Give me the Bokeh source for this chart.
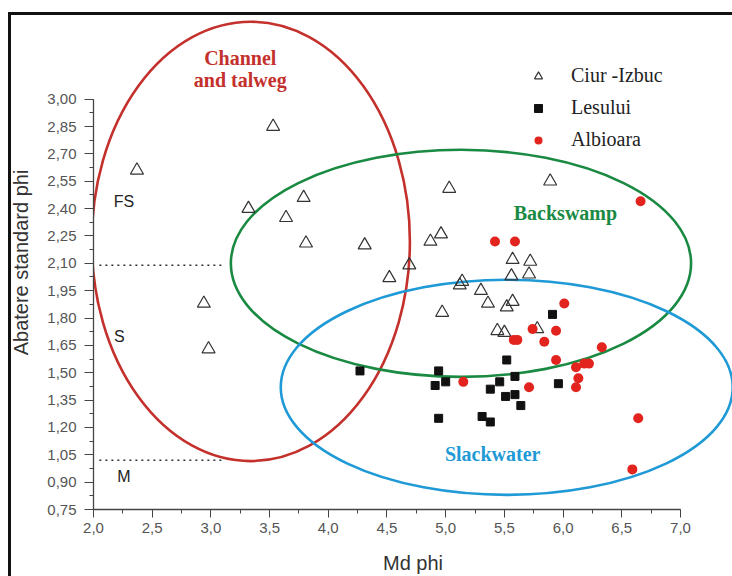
from bokeh.plotting import figure
from bokeh.models import (Range1d, SingleIntervalTicker, CustomJSTickFormatter,
                          Label, Legend, LegendItem)
from bokeh.embed import file_html
from bokeh.resources import INLINE

# ---------------- data ----------------
ciur_x = [2.37, 3.53, 3.32, 3.79, 3.64, 3.81, 4.31, 2.94, 2.98, 4.69, 4.52, 4.87,
          4.96, 5.03, 5.89, 5.12, 5.14, 4.97, 5.30, 5.36, 5.57, 5.52, 5.57, 5.72,
          5.56, 5.71, 5.44, 5.50, 5.78]
ciur_y = [2.61, 2.85, 2.40, 2.46, 2.35, 2.21, 2.20, 1.88, 1.63, 2.09, 2.02, 2.22,
          2.26, 2.51, 2.55, 1.98, 2.00, 1.83, 1.95, 1.88, 1.89, 1.86, 2.12, 2.11,
          2.03, 2.04, 1.73, 1.72, 1.74]

lesului_x = [5.91, 5.52, 4.27, 4.94, 5.00, 4.91, 5.59, 5.46, 5.38, 5.51, 5.59,
             5.64, 5.96, 4.94, 5.31, 5.38]
lesului_y = [1.82, 1.57, 1.51, 1.51, 1.45, 1.43, 1.48, 1.45, 1.41, 1.37, 1.38,
             1.32, 1.44, 1.25, 1.26, 1.23]

albioara_x = [6.66, 5.42, 5.59, 6.01, 5.74, 5.94, 5.84, 5.58, 5.61, 6.33, 5.94,
              6.11, 6.18, 6.22, 6.13, 6.11, 5.71, 5.15, 6.64, 6.59]
albioara_y = [2.44, 2.22, 2.22, 1.88, 1.74, 1.73, 1.67, 1.68, 1.68, 1.64, 1.57,
              1.53, 1.55, 1.55, 1.47, 1.42, 1.42, 1.45, 1.25, 0.97]

# environment regions (ellipses): centre x, centre y, width, height
region_names = ["Channel and talweg", "Backswamp", "Slackwater"]
region_cx = [3.34, 5.13, 5.52]
region_cy = [2.22, 2.10, 1.42]
region_w = [2.71, 3.92, 3.85]
region_h = [2.41, 1.245, 1.18]
region_colors = ["#c4302b", "#1a8a43", "#1f9ad6"]

# class boundaries (FS / S / M)
boundary_y = [2.09, 1.02]
boundary_x0 = 2.05
boundary_x1 = 3.12
class_labels = ["FS", "S", "M"]
class_label_x = [2.26, 2.22, 2.26]
class_label_y = [2.44, 1.70, 0.93]

# ---------------- figure ----------------
p = figure(width=732, height=576,
           x_range=Range1d(2.0, 7.443), y_range=Range1d(0.75, 3.459),
           output_backend="svg", toolbar_location=None,
           min_border_left=93, min_border_right=0, min_border_top=15,
           min_border_bottom=66)
# outer black frame of the original figure (top and left edges)
p.styles = {
    "background-image": "linear-gradient(#111, #111), linear-gradient(#111, #111)",
    "background-size": "3px 564px, 724px 3px",
    "background-position": "8px 12px, 8px 12px",
    "background-repeat": "no-repeat",
}
p.border_fill_color = None
p.background_fill_color = "white"
p.outline_line_color = None
p.xgrid.visible = False
p.ygrid.visible = False

# axes
xa = p.xaxis[0]
ya = p.yaxis[0]
xa.ticker = SingleIntervalTicker(interval=0.5, num_minor_ticks=2)
ya.ticker = SingleIntervalTicker(interval=0.15, num_minor_ticks=2)
xa.formatter = CustomJSTickFormatter(code="return tick.toFixed(1).replace('.', ',');")
ya.formatter = CustomJSTickFormatter(code="return tick.toFixed(2).replace('.', ',');")
xa.bounds = (2.0, 7.0)
ya.bounds = (0.75, 3.0)
xa.axis_label = "Md phi"
ya.axis_label = "Abatere standard phi"
for ax in (xa, ya):
    ax.axis_line_color = "#444"
    ax.axis_line_width = 1.3
    ax.major_tick_line_color = "#444"
    ax.minor_tick_line_color = "#444"
    ax.major_tick_in = 0
    ax.minor_tick_in = 0
    ax.major_label_text_font = "Liberation Sans"
    ax.major_label_text_font_size = "15px"
    ax.major_label_text_color = "#555"
    ax.axis_label_text_font = "Liberation Sans"
    ax.axis_label_text_font_size = "20px"
    ax.axis_label_text_font_style = "normal"
    ax.axis_label_text_color = "#333"
xa.major_tick_out = 8
xa.minor_tick_out = 4
xa.major_label_standoff = 5
xa.axis_label_standoff = 16
ya.major_tick_out = 9
ya.minor_tick_out = 4
ya.major_label_standoff = 8
ya.axis_label_standoff = 12

# region ellipses
p.ellipse(x=region_cx, y=region_cy, width=region_w, height=region_h,
          fill_color=None, line_color=region_colors, line_width=2.6)

# boundaries
for by in boundary_y:
    p.line([boundary_x0, boundary_x1], [by, by], line_color="#333",
           line_width=1.5, line_dash="2 4")
for t, lx, ly in zip(class_labels, class_label_x, class_label_y):
    p.add_layout(Label(x=lx, y=ly, text=t, text_font="Liberation Sans",
                       text_font_size="16px", text_color="#222",
                       text_align="center", text_baseline="middle"))

# region labels
p.add_layout(Label(x=3.25, y=3.224, text="Channel", text_font="Liberation Serif",
                   text_font_size="20px", text_font_style="bold",
                   text_color=region_colors[0], text_align="center",
                   text_baseline="middle"))
p.add_layout(Label(x=3.25, y=3.104, text="and talweg", text_font="Liberation Serif",
                   text_font_size="20px", text_font_style="bold",
                   text_color=region_colors[0], text_align="center",
                   text_baseline="middle"))
p.add_layout(Label(x=6.02, y=2.377, text="Backswamp", text_font="Liberation Serif",
                   text_font_size="20px", text_font_style="bold",
                   text_color=region_colors[1], text_align="center",
                   text_baseline="middle"))
p.add_layout(Label(x=5.40, y=1.056, text="Slackwater", text_font="Liberation Serif",
                   text_font_size="20px", text_font_style="bold",
                   text_color=region_colors[2], text_align="center",
                   text_baseline="middle"))

# points
r1 = p.scatter(ciur_x, ciur_y, marker="triangle", size=13, fill_color=None,
               line_color="#333", line_width=1.2)
r2 = p.scatter(lesului_x, lesului_y, marker="square", size=8,
               fill_color="#111", line_color="#111")
r3 = p.scatter(albioara_x, albioara_y, marker="circle", size=10,
               fill_color="#e2231e", line_color=None)

legend = Legend(items=[LegendItem(label="Ciur -Izbuc", renderers=[r1]),
                       LegendItem(label="Lesului", renderers=[r2]),
                       LegendItem(label="Albioara", renderers=[r3])],
                location=(435, 358), orientation="vertical",
                padding=0, margin=0, spacing=9,
                glyph_width=20, glyph_height=20, label_height=20,
                label_standoff=23,
                label_text_font="Liberation Serif", label_text_font_size="20px",
                label_text_color="#222",
                border_line_alpha=0, background_fill_alpha=0)
p.add_layout(legend)

open("out.html", "w").write(file_html(p, INLINE))
